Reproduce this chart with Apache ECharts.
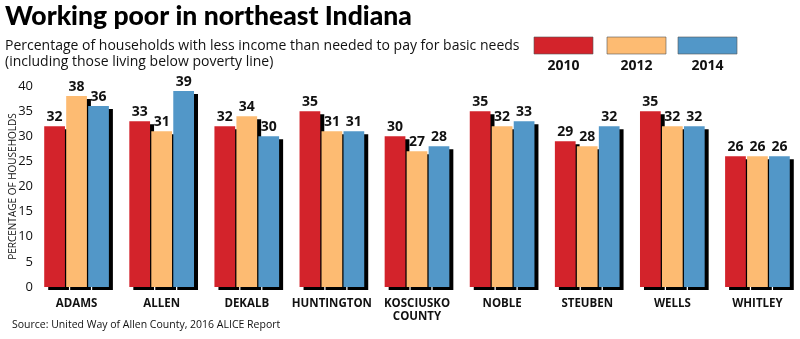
<!DOCTYPE html>
<html>
<head>
<meta charset="utf-8">
<script src="https://cdn.jsdelivr.net/npm/echarts@6/dist/echarts.min.js"></script>
<style>
  html, body { margin: 0; padding: 0; background: #fff; }
  #chart { width: 800px; height: 339px; }
</style>
</head>
<body>
<div id="chart"></div>
<script>
// Counties of northeast Indiana
const counties = ['ADAMS', 'ALLEN', 'DEKALB', 'HUNTINGTON', 'KOSCIUSKO\nCOUNTY', 'NOBLE', 'STEUBEN', 'WELLS', 'WHITLEY'];

// Share of households below the ALICE threshold, by survey year
const years = ['2010', '2012', '2014'];
const values2010 = [32, 33, 32, 35, 30, 35, 29, 35, 26];
const values2012 = [38, 31, 34, 31, 27, 32, 28, 32, 26];
const values2014 = [36, 39, 30, 31, 28, 33, 32, 32, 26];

const yTicks = [0, 5, 10, 15, 20, 25, 30, 35, 40];

const colors = ['#d3232b', '#fdbb72', '#5297c8'];
const seriesValues = [values2010, values2012, values2014];

const FONT = '"Open Sans", "Noto Sans", sans-serif';
const HEAVY = 'Lato, "Open Sans", sans-serif';

const chart = echarts.init(document.getElementById('chart'), null, { renderer: 'canvas' });

// Legend swatches with the year underneath
const legendX = [534, 607, 678];
const legendGraphics = [];
years.forEach((y, i) => {
  legendGraphics.push({
    type: 'rect',
    x: legendX[i], y: 37,
    shape: { x: 0, y: 0, width: 59, height: 17 },
    style: { fill: colors[i], stroke: '#555', lineWidth: 0.6 }
  });
  legendGraphics.push({
    type: 'text',
    x: legendX[i] + 29.5, y: 66,
    style: {
      text: y, fill: '#111', font: 'bold 14px ' + FONT,
      textAlign: 'center', textVerticalAlign: 'middle'
    }
  });
});

const option = {
  backgroundColor: '#fff',
  animation: false,
  title: [
    {
      text: 'Working poor in northeast Indiana',
      left: 0, top: -2,
      textStyle: { fontFamily: HEAVY, fontWeight: 900, fontSize: 26.5, color: '#000' }
    },
    {
      text: 'Percentage of households with less income than needed to pay for basic needs\n(including those living below poverty line)',
      left: 0, top: 33,
      textStyle: { fontFamily: FONT, fontWeight: 'normal', fontSize: 14, color: '#111', lineHeight: 16 }
    },
    {
      text: 'Source: United Way of Allen County, 2016 ALICE Report',
      left: 7, top: 315,
      textStyle: { fontFamily: FONT, fontWeight: 'normal', fontSize: 10.5, color: '#111' }
    }
  ],
  graphic: legendGraphics,
  grid: { left: 34, right: 0, top: 86, bottom: 52, containLabel: false, outerBoundsMode: 'none' },
  xAxis: {
    type: 'category',
    data: counties,
    axisLine: { show: false },
    axisTick: { show: false },
    axisLabel: {
      interval: 0, margin: 10,
      fontFamily: FONT, fontWeight: 'bold', fontSize: 11.5, color: '#111', lineHeight: 13
    }
  },
  yAxis: {
    type: 'value',
    min: yTicks[0], max: yTicks[yTicks.length - 1], interval: yTicks[1] - yTicks[0],
    name: 'PERCENTAGE OF HOUSEHOLDS',
    nameLocation: 'middle', nameGap: 16, nameMoveOverlap: false,
    nameTextStyle: { fontFamily: FONT, fontSize: 10, color: '#111' },
    axisLine: { show: false },
    axisTick: { show: false },
    splitLine: { show: false },
    axisLabel: { fontFamily: FONT, fontSize: 13, color: '#111', margin: 1 }
  },
  series: years.map((y, i) => ({
    name: y,
    type: 'bar',
    data: seriesValues[i],
    barGap: '6%',
    barCategoryGap: '24%',
    itemStyle: {
      color: colors[i],
      shadowColor: '#000',
      shadowBlur: 0,
      shadowOffsetX: 4,
      shadowOffsetY: 3
    },
    label: {
      show: true, position: 'top', distance: 2,
      fontFamily: FONT, fontWeight: 'bold', fontSize: 14, color: '#111'
    }
  }))
};

chart.setOption(option);
</script>
</body>
</html>
